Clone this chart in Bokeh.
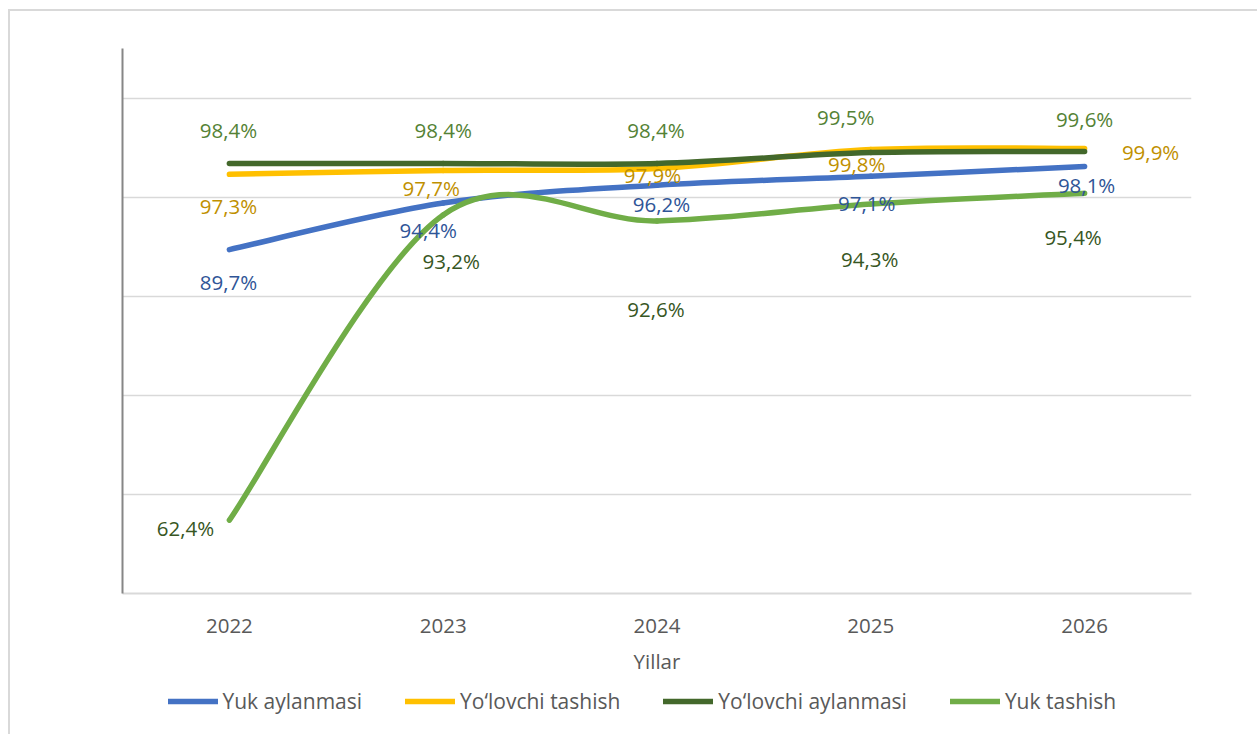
from bokeh.plotting import figure
from bokeh.models import Range1d, FixedTicker, Legend, LegendItem
from bokeh.layouts import column
from bokeh.embed import file_html
from bokeh.resources import INLINE
from bokeh.core.properties import value

# ---------------- data ----------------
years = ["2022", "2023", "2024", "2025", "2026"]
yuk_aylanmasi = [89.7, 94.4, 96.2, 97.1, 98.1]
yolovchi_tashish = [97.3, 97.7, 97.9, 99.8, 99.9]
yolovchi_aylanmasi = [98.4, 98.4, 98.4, 99.5, 99.6]
yuk_tashish = [62.4, 93.2, 92.6, 94.3, 95.4]
series_names = ["Yuk aylanmasi", "Yo\u2018lovchi tashish", "Yo\u2018lovchi aylanmasi", "Yuk tashish"]
x_title = "Yillar"
y_ticks = [55, 65, 75, 85, 95, 105]

# ---------------- styles ----------------
FONT = "Open Sans"
FS = "20.5px"
LEG_FS = "21px"
LW = 5.5
line_colors = ["#4472C4", "#FFC000", "#43682B", "#70AD47"]
label_colors = ["#2F5597", "#BF9000", "#548235", "#375623"]
label_dx = [
    [-1, -15, 4.5, -4, 2],
    [-1, -12, -4.5, -14, 66],
    [-1, 0, -1, -25, 0],
    [-44, 8, -1, -1, -11.5],
]
label_dy = [
    [32, 27, 19, 27, 19],
    [32, 18, 7, 14, 3],
    [-33, -33, -33, -36, -33],
    [8, 46, 88, 54.5, 43.5],
]


def smooth_segments(xs, ys):
    n = len(xs)
    out = dict(x0=[], y0=[], x1=[], y1=[], cx0=[], cy0=[], cx1=[], cy1=[])
    for i in range(n - 1):
        a = max(i - 1, 0)
        d = min(i + 2, n - 1)
        out["x0"].append(xs[i]); out["y0"].append(ys[i])
        out["x1"].append(xs[i + 1]); out["y1"].append(ys[i + 1])
        out["cx0"].append(xs[i] + (xs[i + 1] - xs[a]) / 6)
        out["cy0"].append(ys[i] + (ys[i + 1] - ys[a]) / 6)
        out["cx1"].append(xs[i + 1] - (xs[d] - xs[i]) / 6)
        out["cy1"].append(ys[i + 1] - (ys[d] - ys[i]) / 6)
    return out


all_series = [yuk_aylanmasi, yolovchi_tashish, yolovchi_aylanmasi, yuk_tashish]
idx = list(range(len(years)))

p = figure(width=1247, height=669,
           x_range=Range1d(-0.5, 4.5), y_range=Range1d(55, 110),
           output_backend="svg", toolbar_location=None,
           min_border_left=112, min_border_right=66,
           min_border_top=37, min_border_bottom=87)
p.outline_line_color = None
p.background_fill_color = "white"
p.border_fill_color = "white"

p.xgrid.visible = False
p.ygrid.ticker = FixedTicker(ticks=y_ticks)
p.ygrid.grid_line_color = "#D9D9D9"
p.ygrid.grid_line_width = 1.3

p.yaxis.ticker = FixedTicker(ticks=y_ticks)
p.yaxis.major_label_text_color = None
p.yaxis.major_tick_line_color = None
p.yaxis.minor_tick_line_color = None
p.yaxis.axis_line_color = "#868686"
p.yaxis.axis_line_width = 2

p.xaxis.ticker = FixedTicker(ticks=idx)
p.xaxis.major_label_overrides = {i: y for i, y in zip(idx, years)}
p.xaxis.major_tick_line_color = None
p.xaxis.minor_tick_line_color = None
p.xaxis.axis_line_color = "#D9D9D9"
p.xaxis.axis_line_width = 2
p.xaxis.major_label_text_font = FONT
p.xaxis.major_label_text_font_size = FS
p.xaxis.major_label_text_color = "#595959"
p.xaxis.major_label_standoff = 19
p.xaxis.axis_label = x_title
p.xaxis.axis_label_text_font = FONT
p.xaxis.axis_label_text_font_size = FS
p.xaxis.axis_label_text_font_style = "normal"
p.xaxis.axis_label_text_color = "#595959"
p.xaxis.axis_label_standoff = 11

# lines (smoothed through the data points)
for ys, col in zip(all_series, line_colors):
    seg = smooth_segments(idx, ys)
    p.bezier(x0=seg["x0"], y0=seg["y0"], x1=seg["x1"], y1=seg["y1"],
             cx0=seg["cx0"], cy0=seg["cy0"], cx1=seg["cx1"], cy1=seg["cy1"],
             line_color=col, line_width=LW, line_cap="round")

# data labels
for ys, col, dx, dy in zip(all_series, label_colors, label_dx, label_dy):
    txt = [f"{v:.1f}".replace(".", ",") + "%" for v in ys]
    p.text(x=idx, y=ys, text=txt, x_offset=dx, y_offset=dy,
           text_align="center", text_baseline="middle",
           text_font=value(FONT), text_font_size=FS, text_color=col)

# legend strip (separate figure below the chart; series lie outside its view)
leg = figure(width=1247, height=54, x_range=Range1d(0, 1), y_range=Range1d(0, 1),
             output_backend="svg", toolbar_location=None,
             x_axis_type=None, y_axis_type=None, min_border=0)
leg.outline_line_color = None
leg.xgrid.visible = False
leg.ygrid.visible = False
items = []
for name, col, ys in zip(series_names, line_colors, all_series):
    r = leg.line(x=idx, y=ys, line_color=col, line_width=LW, line_cap="round")
    items.append(LegendItem(label=name, renderers=[r]))
lg = Legend(items=items, location=(45.5, 19), orientation="horizontal",
            glyph_width=50, glyph_height=20, label_height=20,
            label_standoff=5, padding=0, margin=0, spacing=43,
            border_line_color=None, background_fill_alpha=0,
            label_text_font=FONT, label_text_font_size=LEG_FS,
            label_text_color="#595959")
leg.add_layout(lg)

layout = column(p, leg, spacing=0,
                styles={"margin-left": "8px", "margin-top": "9px",
                        "border-top": "2px solid #D9D9D9",
                        "border-left": "2px solid #D9D9D9"})

open("out.html", "w").write(file_html(layout, INLINE))
